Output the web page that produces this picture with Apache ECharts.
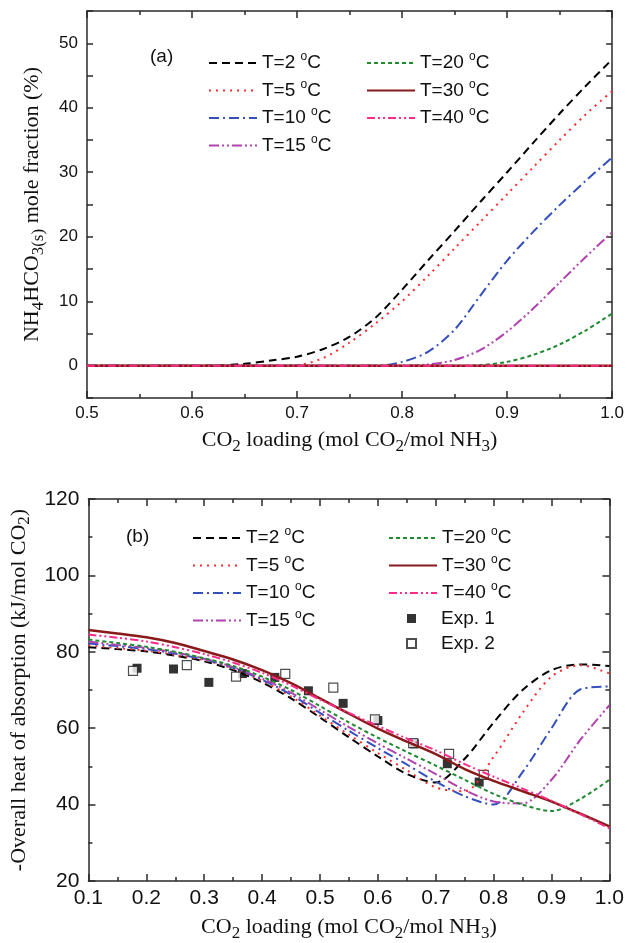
<!DOCTYPE html>
<html>
<head>
<meta charset="utf-8">
<script src="https://cdn.jsdelivr.net/npm/echarts@6.0.0/dist/echarts.min.js"></script>
<style>
  html, body { margin: 0; padding: 0; background: #fff; }
  #chart { width: 627px; height: 943px; }
</style>
</head>
<body>
<div id="chart"></div>
<script>
// panel (a): NH4HCO3(s) mole fraction vs CO2 loading
var xA = [0.5, 0.525, 0.55, 0.575, 0.6, 0.625, 0.65, 0.675, 0.7, 0.725, 0.75,
          0.775, 0.8, 0.825, 0.85, 0.875, 0.9, 0.925, 0.95, 0.975, 1.0];
var aT2  = [0, 0, 0, 0, 0, 0.05, 0.3, 0.8, 1.4, 2.6, 4.5, 7.5, 11.8, 16.4, 20.9, 25.5, 30.0, 34.6, 39.1, 43.4, 47.5];
var aT5  = [0, 0, 0, 0, 0, 0, 0, 0, 0.1, 1.2, 3.6, 6.6, 10.0, 14.0, 18.2, 22.4, 26.6, 30.8, 35.0, 39.0, 42.6];
var aT10 = [0, 0, 0, 0, 0, 0, 0, 0, 0, 0, 0, 0, 0.6, 2.2, 5.6, 11.0, 16.3, 20.8, 24.9, 28.7, 32.3];
var aT15 = [0, 0, 0, 0, 0, 0, 0, 0, 0, 0, 0, 0, 0, 0.2, 0.9, 2.5, 5.3, 8.9, 12.9, 16.9, 20.7];
var aT20 = [0, 0, 0, 0, 0, 0, 0, 0, 0, 0, 0, 0, 0, 0, 0, 0.1, 0.6, 1.7, 3.3, 5.5, 8.1];
var aT30 = [0, 0, 0, 0, 0, 0, 0, 0, 0, 0, 0, 0, 0, 0, 0, 0, 0, 0, 0, 0, 0];
var aT40 = [0, 0, 0, 0, 0, 0, 0, 0, 0, 0, 0, 0, 0, 0, 0, 0, 0, 0, 0, 0, 0];

// panel (b): overall heat of absorption vs CO2 loading
var xB = [0.1, 0.15, 0.2, 0.25, 0.3, 0.35, 0.4, 0.45, 0.5, 0.55, 0.6, 0.65,
          0.7, 0.75, 0.8, 0.85, 0.9, 0.95, 1.0];
var bT2  = [81.2, 80.7, 80.1, 79.0, 77.5, 75.2, 72.0, 67.8, 62.8, 57.6, 52.6, 48.0, 45.8, 52.0, 61.5, 70.0, 75.2, 76.7, 76.3];
var bT5  = [81.7, 81.0, 80.3, 79.2, 77.8, 75.6, 72.4, 68.3, 63.3, 58.3, 53.5, 49.0, 44.5, 43.5, 52.5, 64.0, 73.5, 76.5, 74.3];
var bT10 = [82.2, 81.5, 80.7, 79.5, 78.0, 75.8, 72.7, 68.8, 64.0, 59.3, 54.8, 50.5, 46.0, 42.2, 40.0, 48.5, 60.0, 70.2, 70.9];
var bT15 = [82.7, 81.8, 81.0, 79.8, 78.2, 76.0, 73.0, 69.3, 64.8, 60.3, 56.0, 52.0, 48.0, 43.8, 40.8, 40.3, 46.5, 57.0, 66.0];
var bT20 = [83.2, 82.3, 81.3, 80.0, 78.3, 76.3, 73.5, 70.0, 65.8, 61.5, 57.5, 53.8, 50.2, 46.5, 42.8, 40.0, 38.3, 41.5, 46.5];
var bT30 = [85.7, 84.8, 83.8, 82.3, 80.2, 78.0, 75.2, 71.8, 67.8, 63.8, 59.9, 56.5, 53.2, 49.3, 46.2, 43.5, 40.8, 37.6, 34.3];
var bT40 = [84.5, 83.7, 82.7, 81.2, 79.4, 77.2, 74.5, 71.2, 67.5, 64.0, 60.6, 57.3, 54.2, 50.6, 47.3, 44.2, 41.0, 37.5, 33.8];

var exp1X = [0.184, 0.247, 0.308, 0.366, 0.422, 0.48, 0.54, 0.6, 0.663, 0.72, 0.775];
var exp1Y = [75.7, 75.5, 72.0, 74.3, 73.3, 69.8, 66.5, 62.0, 55.9, 50.7, 45.9];
var exp2X = [0.177, 0.27, 0.355, 0.44, 0.523, 0.595, 0.661, 0.723, 0.783];
var exp2Y = [75.0, 76.5, 73.5, 74.2, 70.6, 62.3, 56.1, 53.3, 47.8];

var names = ['T=2', 'T=5', 'T=10', 'T=15', 'T=20', 'T=30', 'T=40'];
var colors = ['#000000', '#ff2b2b', '#3450bd', '#b043b0', '#1f8a32', '#8a1a1a', '#ff2a88'];
var dashes = [[8, 5], [2, 5], [10, 4, 2, 4], [10, 3, 2, 3, 2, 3], [4, 3], 'solid', [8, 3, 2, 3, 2, 3]];
var widths = [2, 2, 2, 2, 2, 2.5, 2];
var aData = [aT2, aT5, aT10, aT15, aT20, aT30, aT40];
var bData = [bT2, bT5, bT10, bT15, bT20, bT30, bT40];

var SANS = 'Liberation Sans, Arial, sans-serif';
var SERIF = 'Liberation Serif, Times New Roman, serif';
var AXC = '#2a2a2a';

function pairs(xs, ys) {
  return xs.map(function (x, i) { return [x, ys[i]]; });
}

function xAxisCfg(grid, min, max, pos, fs, showName) {
  return {
    type: 'value', gridIndex: grid, position: pos, min: min, max: max, interval: 0.1,
    axisLine: { show: true, onZero: false, lineStyle: { color: AXC, width: 1.5 } },
    axisTick: { show: true, inside: true, length: 7, lineStyle: { color: AXC, width: 1.5 } },
    minorTick: { show: true, splitNumber: 2, length: 4, lineStyle: { color: AXC, width: 1.5 } },
    splitLine: { show: false },
    axisLabel: {
      show: pos === 'bottom', color: '#111', fontFamily: SANS, fontSize: fs, margin: 7,
      formatter: function (v) { return v.toFixed(1); }
    },
    name: showName ? 'CO{sub|2} loading (mol CO{sub|2}/mol NH{sub|3})' : '',
    nameLocation: 'middle',
    nameGap: grid === 0 ? 28 : 32,
    nameTextStyle: {
      color: '#111', fontFamily: SERIF, fontSize: 22,
      rich: { sub: { fontFamily: SERIF, fontSize: 17, color: '#111', padding: [12, 0, 0, 0] } }
    }
  };
}

function yAxisCfg(grid, min, max, interval, pos, fs, name, gap, fmt, minor) {
  return {
    type: 'value', gridIndex: grid, position: pos, min: min, max: max, interval: interval,
    axisLine: { show: true, onZero: false, lineStyle: { color: AXC, width: 1.5 } },
    axisTick: { show: true, inside: true, length: minor ? 7 : 6, lineStyle: { color: AXC, width: 1.5 } },
    minorTick: { show: minor, splitNumber: 2, length: 4, lineStyle: { color: AXC, width: 1.5 } },
    splitLine: { show: false },
    axisLabel: { show: pos === 'left', color: '#111', fontFamily: SANS, fontSize: fs, margin: 9, formatter: fmt },
    name: name, nameLocation: 'middle', nameGap: gap,
    nameTextStyle: {
      color: '#111', fontFamily: SERIF, fontSize: 22,
      rich: { sub: { fontFamily: SERIF, fontSize: 17, color: '#111', padding: [12, 0, 0, 0] } }
    }
  };
}

// legend block for line series: line sample only, no symbol
function legendCfg(data, left, top, gap) {
  return {
    data: data, orient: 'vertical', left: left, top: top, itemGap: gap,
    itemWidth: 48, itemHeight: 12, padding: 0, selectedMode: false,
    itemStyle: { opacity: 0 },
    textStyle: {
      fontFamily: SANS, fontSize: 19, color: '#111',
      rich: { sup: { fontFamily: SANS, fontSize: 12, color: '#111', padding: [0, 0, 12, 0] } }
    },
    formatter: function (n) { return n + ' {sup|o}C'; }
  };
}

var series = [];
names.forEach(function (n, i) {
  var ls = { color: colors[i], width: widths[i], type: dashes[i] };
  series.push({
    name: n, type: 'line', xAxisIndex: 0, yAxisIndex: 0, data: pairs(xA, aData[i]),
    smooth: 0.3, symbol: 'none', color: colors[i], lineStyle: ls
  });
  series.push({
    name: n, type: 'line', xAxisIndex: 2, yAxisIndex: 2, data: pairs(xB, bData[i]),
    smooth: 0.3, symbol: 'none', color: colors[i], lineStyle: ls
  });
});
series.push({
  name: 'Exp. 1', type: 'scatter', xAxisIndex: 2, yAxisIndex: 2, data: pairs(exp1X, exp1Y),
  symbol: 'rect', symbolSize: 9, itemStyle: { color: '#000' }
});
series.push({
  name: 'Exp. 2', type: 'scatter', xAxisIndex: 2, yAxisIndex: 2, data: pairs(exp2X, exp2Y),
  symbol: 'rect', symbolSize: 9, itemStyle: { color: '#fff', borderColor: '#222', borderWidth: 1.2 }
});

var chart = echarts.init(document.getElementById('chart'), null, { renderer: 'canvas' });
chart.setOption({
  backgroundColor: '#ffffff',
  animation: false,
  title: [
    { text: '(a)', left: 150, top: 47, padding: 0, textStyle: { fontFamily: SANS, fontSize: 19, fontWeight: 'normal', color: '#111' } },
    { text: '(b)', left: 126, top: 527, padding: 0, textStyle: { fontFamily: SANS, fontSize: 19, fontWeight: 'normal', color: '#111' } }
  ],
  grid: [
    { left: 87, right: 13, top: 11, height: 387 },
    { left: 87, right: 17, top: 499, bottom: 61 }
  ],
  legend: [
    legendCfg(['T=2', 'T=5', 'T=10', 'T=15'], 208, 51, 6),
    legendCfg(['T=20', 'T=30', 'T=40'], 366, 51, 6),
    legendCfg(['T=2', 'T=5', 'T=10', 'T=15'], 192, 526, 6),
    legendCfg(['T=20', 'T=30', 'T=40'], 388, 526, 6),
    {
      data: ['Exp. 1', 'Exp. 2'], orient: 'vertical', left: 406, top: 609, itemGap: 6,
      itemWidth: 9, itemHeight: 9, padding: 0, selectedMode: false,
      textStyle: { fontFamily: SANS, fontSize: 19, color: '#111', padding: [0, 0, 0, 20] }
    }
  ],
  xAxis: [
    xAxisCfg(0, 0.5, 1.0, 'bottom', 17, true),
    xAxisCfg(0, 0.5, 1.0, 'top', 17, false),
    xAxisCfg(1, 0.1, 1.0, 'bottom', 21, true),
    xAxisCfg(1, 0.1, 1.0, 'top', 21, false)
  ],
  yAxis: [
    yAxisCfg(0, -5, 55, 5, 'left', 17, 'NH{sub|4}HCO{sub|3(s)} mole fraction (%)', 40,
      function (v) { return (v % 10 === 0) ? String(v) : ''; }, false),
    yAxisCfg(0, -5, 55, 5, 'right', 17, '', 10, null, false),
    yAxisCfg(1, 20, 120, 20, 'left', 21, '-Overall heat of absorption (kJ/mol CO{sub|2})', 54, null, true),
    yAxisCfg(1, 20, 120, 20, 'right', 21, '', 10, null, true)
  ],
  series: series
});
</script>
</body>
</html>
